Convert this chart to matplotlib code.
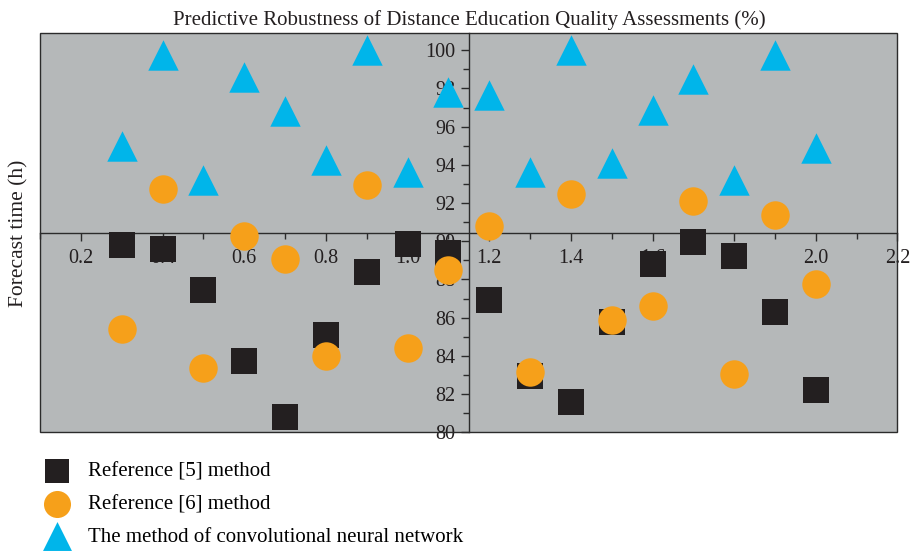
import numpy as np
import matplotlib.pyplot as plt
import matplotlib.patches as patches
from matplotlib.ticker import MultipleLocator

plt.rcParams['font.family'] = ['Liberation Serif', 'DejaVu Serif']

# data
x_vals = [0.3, 0.4, 0.5, 0.6, 0.7, 0.8, 0.9, 1.0, 1.1,
          1.2, 1.3, 1.4, 1.5, 1.6, 1.7, 1.8, 1.9, 2.0]
ref5 = [89.79, 89.58, 87.43, 83.72, 80.79, 85.08, 88.38, 89.84, 89.37,
        86.91, 82.93, 81.57, 85.76, 88.80, 89.95, 89.21, 86.28, 82.20]
ref6 = [85.39, 92.72, 83.35, 90.26, 89.06, 83.98, 92.93, 84.40, 88.48,
        90.79, 83.14, 92.46, 85.86, 86.60, 92.09, 83.04, 91.36, 87.75]
cnn = [94.97, 99.74, 93.19, 98.59, 96.81, 94.24, 100.0, 93.61, 97.80,
       97.64, 93.61, 100.0, 94.08, 96.86, 98.48, 93.19, 99.74, 94.87]
labels = ["Reference [5] method", "Reference [6] method",
          "The method of convolutional neural network"]

fig = plt.figure(figsize=(9.13, 5.52), dpi=100)
ax = fig.add_axes([0.044, 0.217, 0.939, 0.723])
ax.set_facecolor('#b5b8b9')

ax.scatter(x_vals, ref5, marker='s', s=330, color='#231f20', linewidths=0, zorder=3, label=labels[0])
ax.scatter(x_vals, ref6, marker='o', s=420, color='#f6a01a', linewidths=0, zorder=3, label=labels[1])
ax.scatter(x_vals, cnn, marker='^', s=480, color='#00b5ea', linewidths=0, zorder=3, label=labels[2])

ax.set_xlim(0.1, 2.2)
ax.set_ylim(80, 100.9)

# axes crossing in the middle of the plot
ax.spines['left'].set_position(('data', 1.15))
ax.spines['bottom'].set_position(('data', 90.45))
ax.spines['right'].set_visible(False)
ax.spines['top'].set_visible(False)
for s in ['left', 'bottom']:
    ax.spines[s].set_color('#2b2b2b')
    ax.spines[s].set_linewidth(1.0)
    ax.spines[s].set_zorder(1)
ax.set_axisbelow(True)

frame = patches.Rectangle((0, 0), 1, 1, transform=ax.transAxes, fill=False,
                          edgecolor='#2b2b2b', linewidth=1.0, clip_on=False, zorder=1)
ax.add_patch(frame)

ax.xaxis.set_major_locator(MultipleLocator(0.2))
ax.xaxis.set_minor_locator(MultipleLocator(0.1))
ax.yaxis.set_major_locator(MultipleLocator(2))
ax.yaxis.set_minor_locator(MultipleLocator(1))
ax.xaxis.set_major_formatter(plt.FuncFormatter(lambda v, p: f"{v:.1f}"))
ax.tick_params(which='both', direction='out', colors='#2b2b2b', labelsize=14.5, labelcolor='#231f20')
ax.tick_params(which='major', length=6, width=1)
ax.tick_params(which='minor', length=4, width=1)
ax.tick_params(axis='x', pad=6)

ax.set_title("Predictive Robustness of Distance Education Quality Assessments (%)",
             fontsize=15, color='#231f20', pad=6)
fig.text(0.021, 0.578, "Forecast time (h)", rotation=90, ha='center', va='center',
         fontsize=15.5, color='#231f20')

fig.legend(loc='upper left', bbox_to_anchor=(0.019, 0.197), frameon=False,
           fontsize=15, labelspacing=0.62, handletextpad=0.5, markerscale=0.95)

plt.savefig('out.png', dpi=100)
